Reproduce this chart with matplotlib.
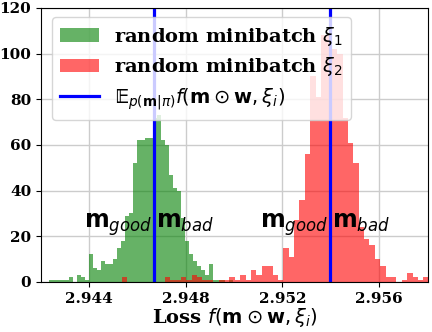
import numpy as np
import matplotlib
matplotlib.use("Agg")
import matplotlib.pyplot as plt

# histogram counts
green_start = 2.94235
green_width = 0.000165
green_counts = [1, 1, 1, 1, 1, 2, 0, 3, 2, 1,
                12, 6, 5, 9, 8, 8, 10, 15, 18, 29,
                30, 52, 62, 62, 63, 63, 72, 73, 62, 60,
                47, 41, 40, 28, 18, 12, 9, 7, 5, 3,
                8, 1, 1, 1, 0, 1]

red_start = 2.945353
red_width = 0.0002227
red_counts = [2, 0, 0, 0, 0, 0, 0, 0, 2, 1,
              1, 2, 1, 3, 2, 1, 1, 0, 1, 1,
              2, 1, 3, 1, 5, 3, 7, 7, 3, 1,
              15, 11, 27, 36, 56, 90, 81, 108, 108, 102,
              100, 72, 61, 52, 24, 19, 16, 10, 7, 2,
              2, 0, 1, 4, 2, 1, 2]

green_mean = 2.94668
red_mean = 2.95398

x_ticks = [2.944, 2.948, 2.952, 2.956]
y_ticks = [0, 20, 40, 60, 80, 100, 120]

plt.rcParams['font.family'] = 'serif'
plt.rcParams['mathtext.fontset'] = 'dejavusans'

fig = plt.figure(figsize=(4.32, 3.32), dpi=100)
ax = fig.add_axes([0.095, 0.151, 0.896, 0.825])

g_edges = green_start + green_width * np.arange(len(green_counts) + 1)
r_edges = red_start + red_width * np.arange(len(red_counts) + 1)

ax.hist(g_edges[:-1], bins=g_edges, weights=green_counts, color='green', alpha=0.6,
        label=r'random minibatch $\xi_1$')
ax.hist(r_edges[:-1], bins=r_edges, weights=red_counts, color='red', alpha=0.6,
        label=r'random minibatch $\xi_2$')
ax.axvline(green_mean, color='blue', lw=2.3,
           label='$\U0001D53C_{p(\\mathbf{m}|\\pi)} f(\\mathbf{m} \\odot \\mathbf{w}, \\xi_i)$')
ax.axvline(red_mean, color='blue', lw=2.3)

## annotations either side of each mean line
for m in [green_mean, red_mean]:
    ax.text(m - 0.00008, 23.5, r'$\mathbf{m}_{good}$', fontsize=17, ha='right', va='baseline')
    ax.text(m + 0.00008, 23.5, r'$\mathbf{m}_{bad}$', fontsize=17, ha='left', va='baseline')

ax.set_xlim(2.94202, 2.95802)
ax.set_ylim(0, 120)
ax.set_xticks(x_ticks)
ax.set_xticklabels([f'{t:.3f}' for t in x_ticks])
ax.set_yticks(y_ticks)
ax.tick_params(labelsize=11)
for lab in ax.get_xticklabels() + ax.get_yticklabels():
    lab.set_fontweight('bold')
ax.grid(True, color='#cccccc', lw=1)
ax.set_axisbelow(True)
ax.set_xlabel(r'Loss $f(\mathbf{m} \odot \mathbf{w}, \xi_i)$', fontsize=14,
              fontweight='bold', labelpad=0)
ax.legend(loc='upper left', bbox_to_anchor=(0.028, 0.968), borderaxespad=0,
          prop={'size': 14, 'weight': 'bold'}, labelspacing=0.4)

fig.savefig('out.png', dpi=100)
